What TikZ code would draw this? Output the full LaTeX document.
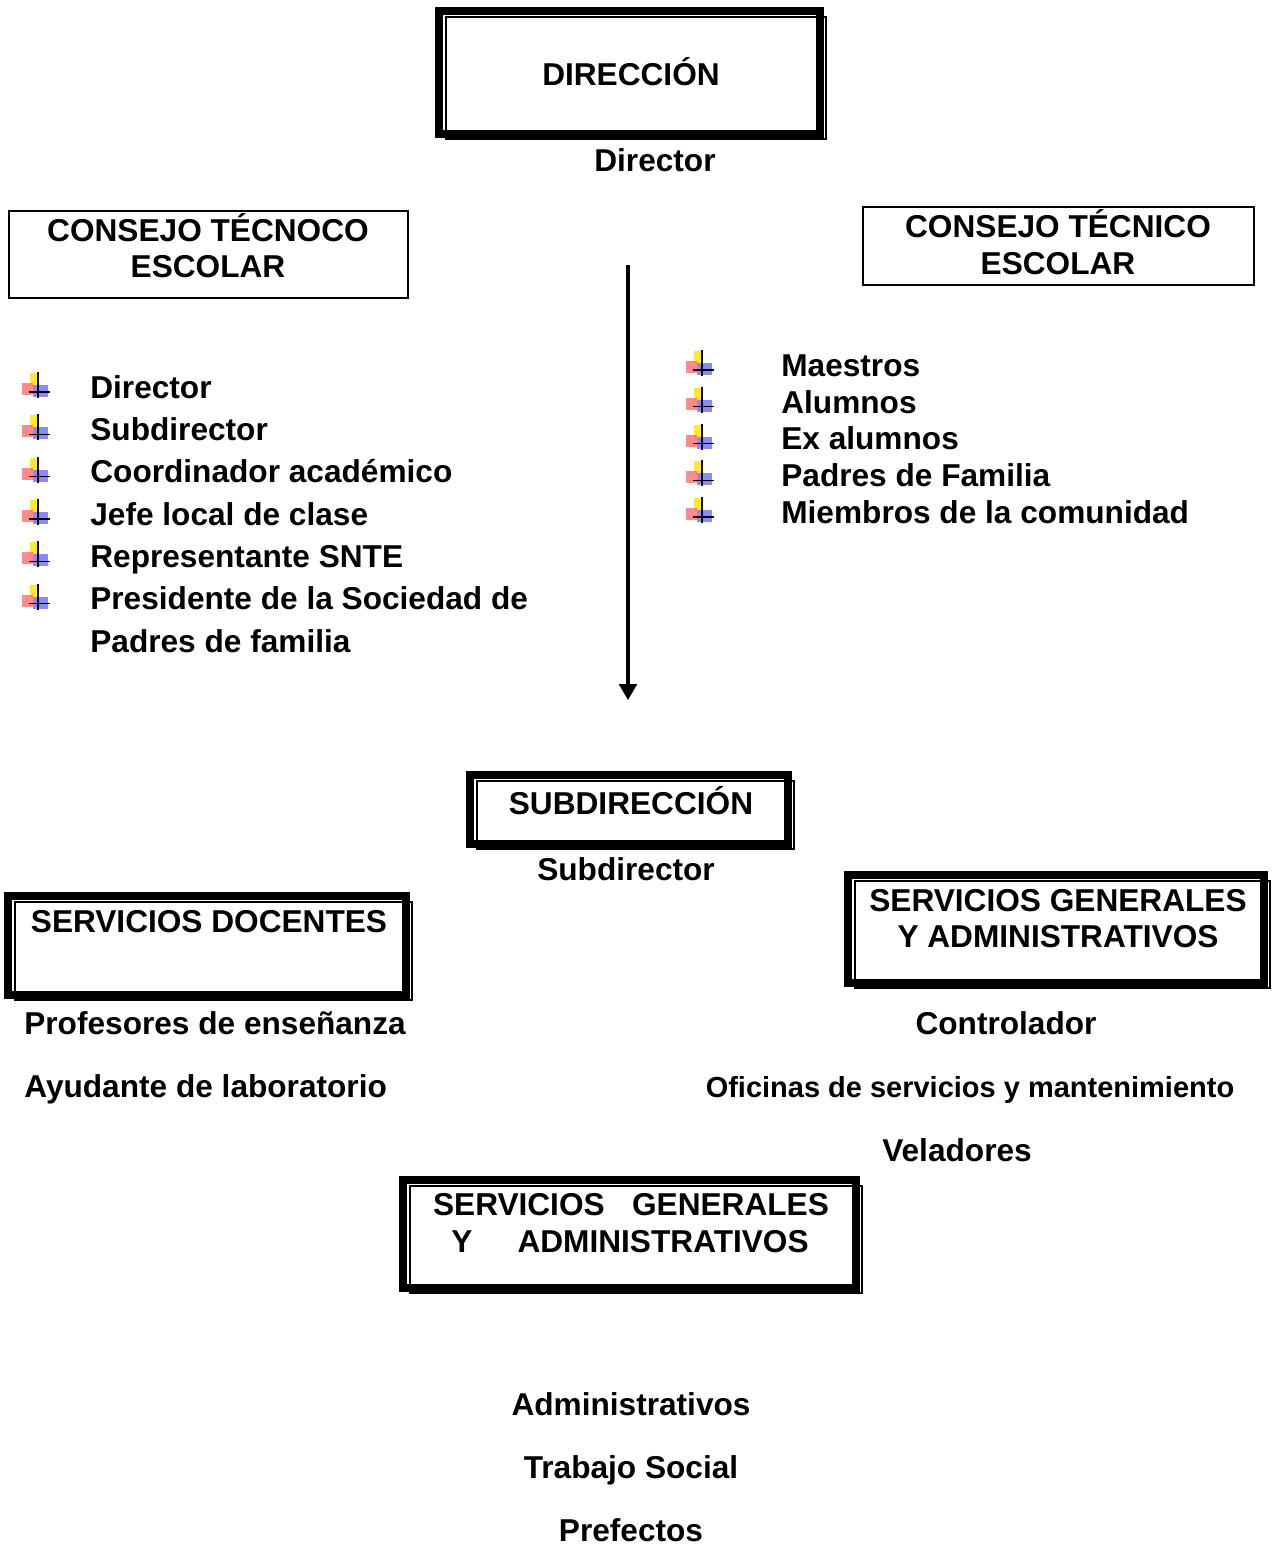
\documentclass[tikz,border=0pt]{standalone}
\usepackage{fontspec}
\setmainfont{Liberation Sans}
\usepackage{tikz}
\usetikzlibrary{arrows.meta, positioning}
\colorlet{markyellow}{yellow!85!orange}
\colorlet{markred}{red!65}
\colorlet{markblue}{blue!65}
\newcommand{\dblframe}[4]{%
  \draw[line width=4.2pt] (#1,#2) rectangle (#3,#4);
  \draw[line width=0.9pt] ({#1+7},{#2+6}) rectangle ({#3+6},{#4+5});
}
\newcommand{\bmark}[2]{%
  \fill[markyellow, opacity=0.8] ({#1-6},{#2-12}) rectangle ({#1+1},{#2});
  \fill[markred, opacity=0.7] ({#1-14},{#2-2}) rectangle ({#1-3},{#2+10});
  \fill[markblue, opacity=0.7] ({#1-3},{#2}) rectangle ({#1+12},{#2+12});
  \draw[line width=0.8pt] ({#1+2},{#2-13}) -- ({#1+2},{#2+13});
  \draw[line width=0.8pt] ({#1-7},{#2+7}) -- ({#1+14},{#2+7});
}
\tikzset{
  lbl/.style={inner sep=0pt, text height=12.9pt, text depth=0pt,
    font=\fontsize{18}{21}\selectfont\bfseries},
  lblsmall/.style={lbl, text height=11.8pt,
    font=\fontsize{16.5}{19}\selectfont\bfseries},
  flecha/.style={line width=1.8pt, -{Triangle[length=9pt, width=10pt]}}
}
\begin{document}
\begin{tikzpicture}[x=0.02cm, y=-0.02cm]
  \useasboundingbox (0,0) rectangle (1273,1545);

  % Direccion
  \dblframe{439}{11}{820}{134}
  \node[lbl] (dir) at (631,74) {DIRECCIÓN};
  \node[lbl] (director) at (655,160) {Director};

  % Consejos
  \draw[line width=0.9pt] (9,211) rectangle (408,298);
  \node[lbl] (ctl1) at (208,230) {CONSEJO TÉCNOCO};
  \node[lbl] (ctl2) at (208,266) {ESCOLAR};
  \draw[line width=0.9pt] (863,207) rectangle (1254,285);
  \node[lbl] (ctr1) at (1058,226) {CONSEJO TÉCNICO};
  \node[lbl] (ctr2) at (1058,263) {ESCOLAR};

  % Flecha
  \coordinate (fA) at (628,265);
  \coordinate (fB) at (628,700);
  \draw[flecha] (fA) -- (fB);

  % Lista izquierda
  \foreach \txt [count=\i, evaluate=\i as \yy using 387+(\i-1)*42.3] in
      {Director, Subdirector, Coordinador académico,
      Jefe local de clase, Representante SNTE, Presidente de la Sociedad de} {
    \bmark{36}{\yy-2}
    \node[lbl, anchor=west] (izq\i) at (90,\yy) {\txt};
  }
  \node[lbl, anchor=west] (izq7) at (90,641) {Padres de familia};

  % Lista derecha
  \foreach \txt [count=\i, evaluate=\i as \yy using 365+(\i-1)*36.75] in
      {Maestros, Alumnos, Ex alumnos,
      Padres de Familia, Miembros de la comunidad} {
    \bmark{700}{\yy-2}
    \node[lbl, anchor=west] (der\i) at (781,\yy) {\txt};
  }

  % Subdireccion
  \dblframe{470}{775}{788}{844}
  \node[lbl] (subdir) at (631,803) {SUBDIRECCIÓN};
  \node[lbl] (subdirector) at (626,869) {Subdirector};

  % Servicios docentes
  \dblframe{8}{896}{406}{995}
  \node[lbl] (docentes) at (209,921) {SERVICIOS DOCENTES};
  \node[lbl, anchor=west] (profesores) at (24,1023) {Profesores de enseñanza};
  \node[lbl, anchor=west] (ayudante) at (24,1086) {Ayudante de laboratorio};

  % Servicios generales (derecha)
  \dblframe{848}{875}{1264}{983}
  \node[lbl] (sg1) at (1058,900) {SERVICIOS GENERALES};
  \node[lbl] (sg2) at (1058,936) {Y ADMINISTRATIVOS};
  \node[lbl] (controlador) at (1006,1023) {Controlador};
  \node[lblsmall] (oficinas) at (970,1087) {Oficinas de servicios y mantenimiento};
  \node[lbl] (veladores) at (957,1150) {Veladores};

  % Servicios generales (abajo)
  \dblframe{403}{1180}{856}{1288}
  \node[lbl] (sgb1) at (631,1204) {SERVICIOS\hspace{15.6pt}GENERALES};
  \node[lbl] (sgb2) at (630,1241) {Y\hspace{25.7pt}ADMINISTRATIVOS};
  \node[lbl] (administrativos) at (631,1404) {Administrativos};
  \node[lbl] (trabajo) at (631,1467) {Trabajo Social};
  \node[lbl] (prefectos) at (631,1530) {Prefectos};
\end{tikzpicture}
\end{document}
